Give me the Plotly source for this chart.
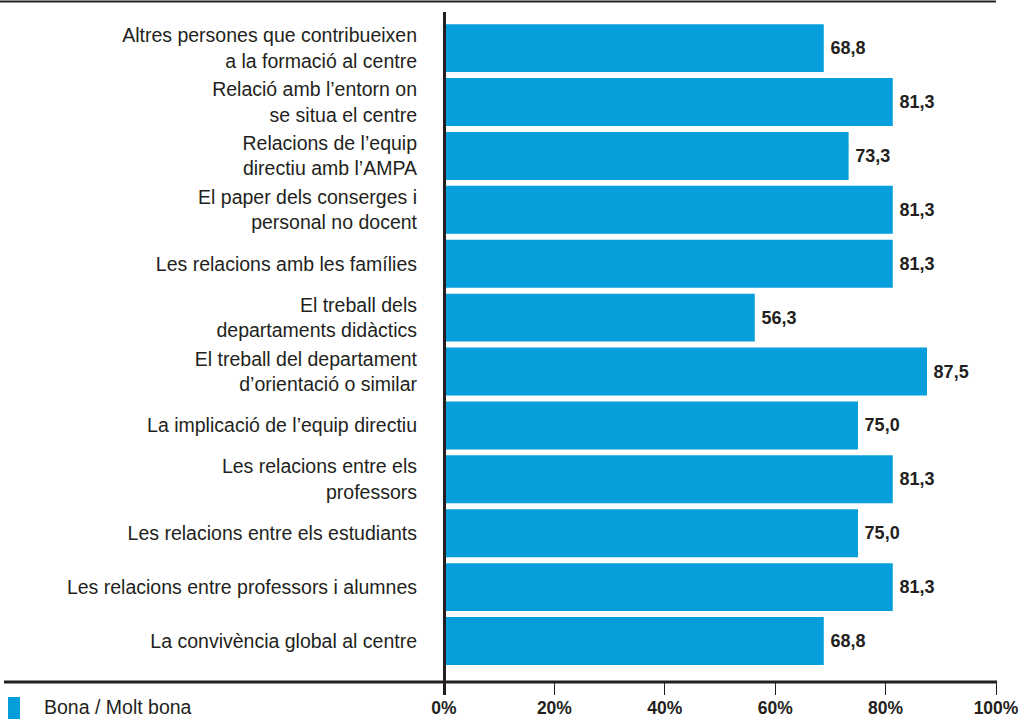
import plotly.graph_objects as go

categories = [
    "Altres persones que contribueixen<br>a la formació al centre",
    "Relació amb l’entorn on<br>se situa el centre",
    "Relacions de l’equip<br>directiu amb l’AMPA",
    "El paper dels conserges i<br>personal no docent",
    "Les relacions amb les famílies",
    "El treball dels<br>departaments didàctics",
    "El treball del departament<br>d’orientació o similar",
    "La implicació de l’equip directiu",
    "Les relacions entre els<br>professors",
    "Les relacions entre els estudiants",
    "Les relacions entre professors i alumnes",
    "La convivència global al centre",
]
values = [68.8, 81.3, 73.3, 81.3, 81.3, 56.3, 87.5, 75.0, 81.3, 75.0, 81.3, 68.8]
tick_vals = [0, 20, 40, 60, 80, 100]
tick_text = ["0%", "20%", "40%", "60%", "80%", "100%"]
legend_label = "Bona / Molt bona"

BLUE = "#069fdc"
DARK = "#231f20"
FONT = "Liberation Sans, Arial, sans-serif"

fig = go.Figure(go.Bar(
    y=categories, x=values, orientation="h",
    marker=dict(color=BLUE, line=dict(width=0)),
    texttemplate="\u2009<b>%{x:.1f}</b>", textposition="outside",
    textfont=dict(family=FONT, size=18, color=DARK),
    cliponaxis=False, showlegend=False,
))

W, H = 1019, 719
L, R, T, B = 444, 23, 12, 37
pw, ph = W - L - R, H - T - B

def px_x(p):
    return (p - L) / pw

def px_y(p):
    return (H - B - p) / ph

fig.update_layout(
    width=W, height=H,
    margin=dict(l=L, r=R, t=T, b=B, pad=0, autoexpand=False),
    paper_bgcolor="white", plot_bgcolor="white",
    separators=",.",
    bargap=0.11,
    font=dict(family=FONT, color=DARK),
    xaxis=dict(range=[0, 100], tickvals=tick_vals, ticktext=tick_text,
               ticks="outside", ticklen=12, tickwidth=1, tickcolor=DARK,
               showgrid=False, zeroline=False, showline=False, automargin=False,
               ticklabeloverflow="allow", ticklabelstandoff=-2,
               tickfont=dict(family=FONT, size=17.5, color=DARK, weight="bold"),
               fixedrange=True),
    yaxis=dict(range=[11.76, -0.67], showgrid=False, zeroline=False, showline=False,
               ticks="", ticklabelstandoff=26, automargin=False,
               tickfont=dict(family=FONT, size=19.5, color=DARK), fixedrange=True),
    shapes=[
        # top rule
        dict(type="line", xref="paper", yref="paper", x0=px_x(0), x1=px_x(996),
             y0=px_y(1.5), y1=px_y(1.5), line=dict(color=DARK, width=2)),
        # bottom axis line
        dict(type="line", xref="paper", yref="paper", x0=px_x(4), x1=px_x(997),
             y0=px_y(682), y1=px_y(682), line=dict(color=DARK, width=3)),
        # vertical axis line
        dict(type="line", xref="paper", yref="paper", x0=px_x(444.5), x1=px_x(444.5),
             y0=px_y(695), y1=px_y(12), line=dict(color=DARK, width=3)),
        # legend swatch
        dict(type="rect", xref="paper", yref="paper", x0=px_x(8), x1=px_x(20),
             y0=px_y(720), y1=px_y(697), fillcolor=BLUE, line=dict(width=0)),
    ],
    annotations=[
        dict(xref="paper", yref="paper", x=px_x(42), y=px_y(707), text=legend_label,
             showarrow=False, xanchor="left", yanchor="middle",
             font=dict(family=FONT, size=19.5, color=DARK)),
    ],
)

fig.write_html("out.html", config={"displayModeBar": False},
               post_script="document.body.style.margin='0';document.body.style.padding='0';")
